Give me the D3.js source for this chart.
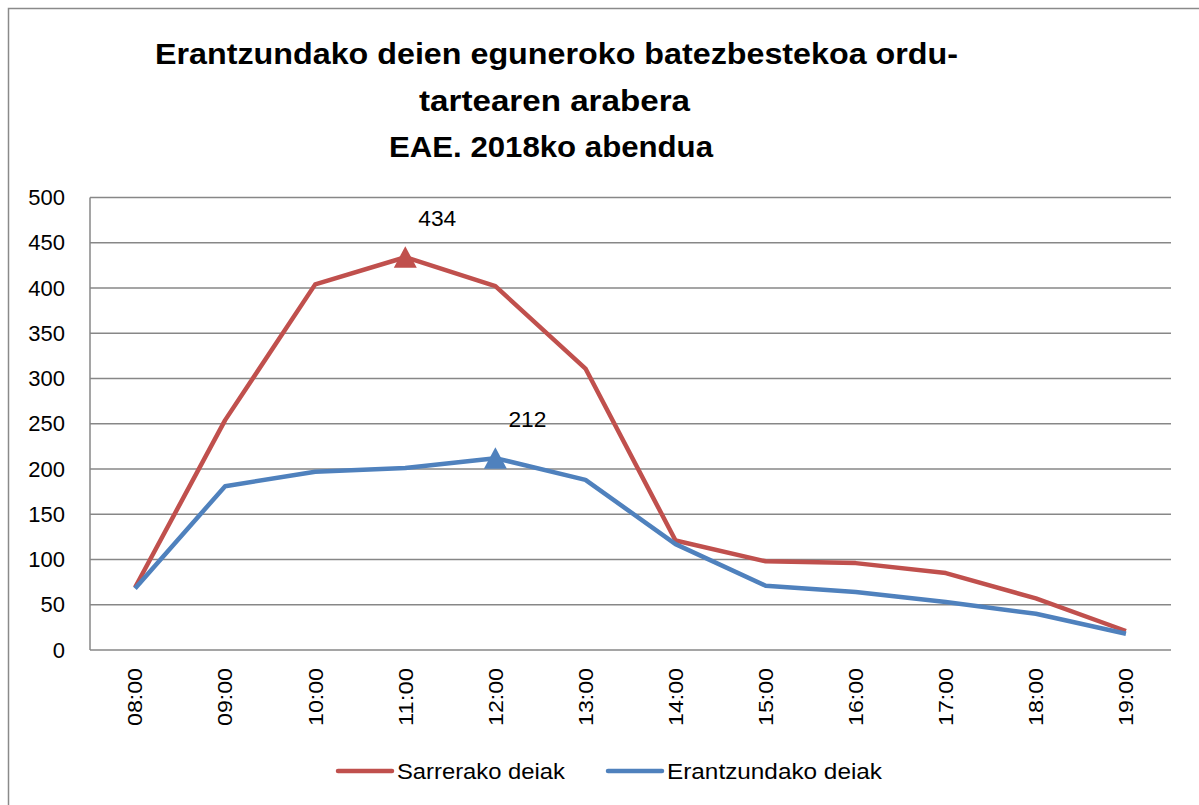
<!DOCTYPE html>
<html><head><meta charset="utf-8">
<script src="https://cdn.jsdelivr.net/npm/d3@7"></script>
<style>body{margin:0;background:#fff}svg{display:block}</style>
</head><body>
<script>
const categories = ["08:00","09:00","10:00","11:00","12:00","13:00","14:00","15:00","16:00","17:00","18:00","19:00"];
const sarrerako = [69, 254, 404, 434, 402, 311, 121, 98, 96, 85, 57, 21];
const erantzundako = [68, 181, 197, 201, 212, 188, 117, 71, 64, 53, 40, 18];
const yTicks = [0,50,100,150,200,250,300,350,400,450,500];
const seriesNames = ["Sarrerako deiak","Erantzundako deiak"];
const colors = ["#C0504D","#4F81BD"];
const titleLines = ["Erantzundako deien eguneroko batezbestekoa ordu-","tartearen arabera","EAE. 2018ko abendua"];

const W = 1199, H = 805;
const svg = d3.select("body").append("svg").attr("width", W).attr("height", H);
const font = "Liberation Sans, Arial, sans-serif";

// outer frame
svg.append("path").attr("d", `M8.5,${H} L8.5,8.5 L${W},8.5`).attr("fill","none").attr("stroke","#8a8a8a").attr("stroke-width",1.5);

const x = d3.scaleBand().domain(categories).range([90, 1171]);
const y = d3.scaleLinear().domain([0, 500]).range([650, 197.5]);
const cx = c => x(c) + x.bandwidth()/2;

// gridlines
svg.append("g").selectAll("line").data(yTicks).join("line")
  .attr("x1", 90).attr("x2", 1171)
  .attr("y1", d => y(d)).attr("y2", d => y(d))
  .attr("stroke", "#878787").attr("stroke-width", 1.5);
svg.append("line").attr("x1",90).attr("x2",90).attr("y1",y(500)).attr("y2",y(0)).attr("stroke","#878787").attr("stroke-width",1.5);

// y axis labels
const yAxis = d3.axisLeft(y).tickValues(yTicks).tickSize(0).tickPadding(25);
const gy = svg.append("g").attr("transform","translate(90,0)").call(yAxis);
gy.select(".domain").remove();
gy.selectAll("text").attr("font-family", font).attr("font-size", 22).attr("fill","#000");

// x axis labels (rotated)
const xAxis = d3.axisBottom(x).tickSize(0).tickPadding(0);
const gx = svg.append("g").attr("transform","translate(0,650)").call(xAxis);
gx.select(".domain").remove();
gx.selectAll("text")
  .attr("font-family", font).attr("font-size", 21).attr("fill","#000")
  .attr("textLength", 58).attr("lengthAdjust","spacingAndGlyphs")
  .attr("transform","rotate(-90)")
  .attr("text-anchor","end")
  .attr("x", -18).attr("y", 0).attr("dy","0.35em");

// lines
const series = [sarrerako, erantzundako];
const line = d3.line().x((d,i) => cx(categories[i])).y(d => y(d));
series.forEach((s, k) => {
  svg.append("path").datum(s).attr("d", line).attr("fill","none")
    .attr("stroke", colors[k]).attr("stroke-width", 4.5).attr("stroke-linejoin","round");
});

// max markers + labels
series.forEach((s, k) => {
  const mi = s.indexOf(d3.max(s));
  const px = cx(categories[mi]), py = y(s[mi]);
  svg.append("path")
    .attr("d", `M${px},${py-11} L${px-11.5},${py+10.5} L${px+11.5},${py+10.5} Z`)
    .attr("fill", colors[k]);
  svg.append("text").attr("x", px + 32).attr("y", py - 31.5)
    .attr("text-anchor","middle").attr("font-family", font).attr("font-size", 22)
    .attr("textLength", 38).attr("lengthAdjust","spacingAndGlyphs")
    .text(s[mi]);
});

// title
const titleX = [556.5, 554.5, 551];
const titleW = [803, 271, 324];
titleLines.forEach((t, i) => {
  svg.append("text").attr("x", titleX[i]).attr("y", 64 + i*46.5)
    .attr("text-anchor","middle").attr("font-family", font).attr("font-weight","bold")
    .attr("font-size", 29)
    .attr("textLength", titleW[i]).attr("lengthAdjust","spacingAndGlyphs")
    .text(t);
});

// legend
const legendX = [338, 608];
const legendTextW = [168, 215];
seriesNames.forEach((n, k) => {
  svg.append("line").attr("x1", legendX[k]).attr("x2", legendX[k] + 54)
    .attr("y1", 771).attr("y2", 771).attr("stroke", colors[k]).attr("stroke-width", 4.5)
    .attr("stroke-linecap","round");
  svg.append("text").attr("x", legendX[k] + 59).attr("y", 779)
    .attr("font-family", font).attr("font-size", 22)
    .attr("textLength", legendTextW[k]).attr("lengthAdjust","spacingAndGlyphs")
    .text(n);
});
</script>
</body></html>
